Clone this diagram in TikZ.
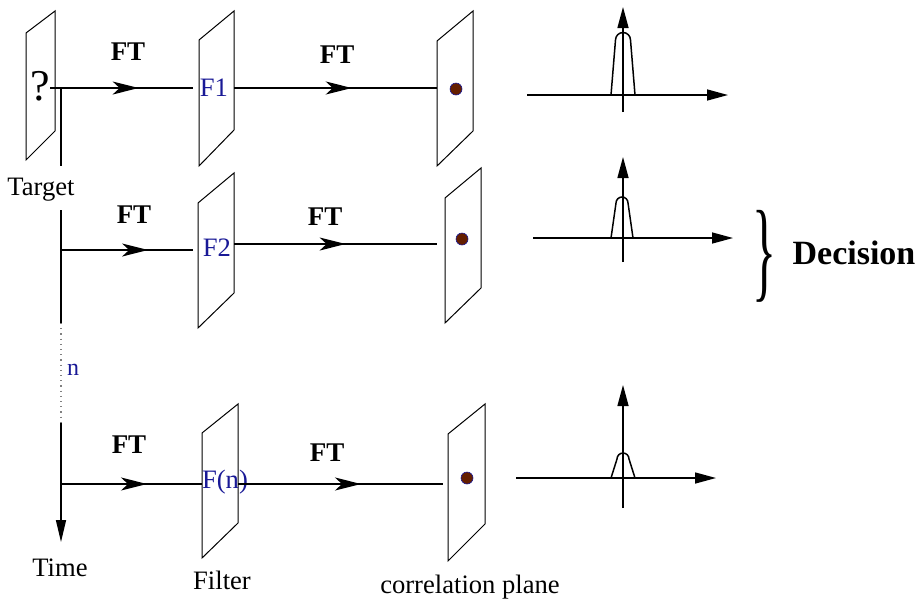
\documentclass[tikz,border=0pt]{standalone}
\usepackage{fontspec}
\setmainfont{Liberation Serif}
\usetikzlibrary{arrows.meta,decorations.markings}
\definecolor{labelblue}{RGB}{25,25,150}
\definecolor{spotbrown}{RGB}{100,30,0}

\begin{document}
\begin{tikzpicture}[x=0.5pt, y=-0.5pt,
  ray/.style={line width=0.75pt},
  plateline/.style={line width=0.5pt, line join=miter},
  ftmark/.style={postaction={decorate, decoration={markings,
      mark=at position #1 with {\arrow{Stealth[length=13pt,width=6.5pt,inset=3.5pt]}}}}},
  axis/.style={line width=0.75pt, -{Triangle[length=10.5pt,width=5.5pt]}},
  txt/.style={font=\fontsize{13.3}{16}\selectfont, inner sep=0pt},
  ft/.style={font=\fontsize{13.5}{16}\selectfont\bfseries, inner sep=0pt},
  flabel/.style={txt, text=labelblue},
  spot/.style={circle, fill=spotbrown, draw=labelblue, line width=0.3pt,
               minimum size=6pt, inner sep=0pt}
]
\useasboundingbox (0,0) rectangle (920,601);

% ── Plates ───────────────────────────────────────────────────────────────────
\draw[plateline] (26,33) -- (55,11) -- (55,131) -- (26,160) -- cycle;     % target
\draw[plateline] (199,40) -- (234,11) -- (234,130) -- (199,166) -- cycle;  % F1
\draw[plateline] (198,203) -- (234,173) -- (234,293) -- (198,328) -- cycle; % F2
\draw[plateline] (202,433) -- (238,404) -- (238,523) -- (202,558) -- cycle; % F(n)
\draw[plateline] (437,41) -- (473,11) -- (473,131) -- (437,166) -- cycle;  % corr 1
\draw[plateline] (445,198) -- (481,168) -- (481,288) -- (445,323) -- cycle; % corr 2
\draw[plateline] (448,434) -- (485,404) -- (485,524) -- (448,561) -- cycle; % corr 3

% ── Plate contents ───────────────────────────────────────────────────────────
\node[inner sep=0pt, font=\fontsize{22}{24}\selectfont] (q) at (40,86) {?};
\node[flabel] (f1) at (214,88)  {F1};
\node[flabel] (f2) at (217,248) {F2};
\node[flabel] (fn) at (225,482) {F(n)};
\node[spot] (s1) at (456,89)  {};
\node[spot] (s2) at (462,239) {};
\node[spot] (s3) at (467,478) {};

% ── Ray end points ───────────────────────────────────────────────────────────
\coordinate (r1s) at (50,88);   \coordinate (f1-in) at (193,88);
\coordinate (f1-out) at (234,88); \coordinate (c1-in) at (437,88);
\coordinate (t2) at (61,250);   \coordinate (f2-in) at (193,250);
\coordinate (f2-out) at (234,244); \coordinate (c2-in) at (437,244);
\coordinate (t3) at (61,484);   \coordinate (fn-in) at (202,484);
\coordinate (fn-out) at (238,484); \coordinate (c3-in) at (443,484);

% ── Time axis ────────────────────────────────────────────────────────────────
\coordinate (t1) at (61,88);
\coordinate (t1b) at (61,166);
\coordinate (t2a) at (61,210);
\coordinate (t2b) at (61,323);
\coordinate (t3a) at (61,423);
\coordinate (tend) at (61,542);
\draw[ray] (t1) -- (t1b);
\draw[ray] (t2a) -- (t2b);
\draw[line width=0.6pt, dotted, gray] (t2b) -- (t3a);
\draw[ray, -{Triangle[length=11pt,width=5pt]}] (t3a) -- (tend);

% ── Rays with FT arrows ──────────────────────────────────────────────────────
\draw[ray, ftmark=0.62] (r1s) -- (f1-in);
\draw[ray, ftmark=0.58] (f1-out) -- (c1-in);
\draw[ray, ftmark=0.66] (t2) -- (f2-in);
\draw[ray, ftmark=0.55] (f2-out) -- (c2-in);
\draw[ray, ftmark=0.61] (t3) -- (fn-in);
\draw[ray, ftmark=0.60] (fn-out) -- (c3-in);

\node[ft] (ft1a) at (128,52)  {FT};
\node[ft] (ft1b) at (337,55)  {FT};
\node[ft] (ft2a) at (134,215) {FT};
\node[ft] (ft2b) at (325,217) {FT};
\node[ft] (ft3a) at (129,445) {FT};
\node[ft] (ft3b) at (327,453) {FT};

% ── Correlation peaks ────────────────────────────────────────────────────────
\draw[axis] (527,95) -- (728,95);
\draw[axis] (623,112) -- (623,7);
\draw[ray] (611,95) -- (615.5,40) arc[start angle=180, end angle=360, radius=7.5] -- (635,95);

\draw[axis] (533,238) -- (733,238);
\draw[axis] (623,262) -- (623,157);
\draw[ray] (611,238) -- (616,203) arc[start angle=180, end angle=360, radius=6] -- (633,238);

\draw[axis] (516,478) -- (716,478);
\draw[axis] (623,508) -- (623,385);
\draw[ray] (611,478) -- (617,459) arc[start angle=180, end angle=360, radius=6] -- (635,478);

% ── Labels ───────────────────────────────────────────────────────────────────
\node[txt] (target) at (41,190) {Target};
\node[txt, text=labelblue, font=\fontsize{12}{14}\selectfont] (n) at (73,370) {n};
\node[txt] (time)   at (60,568) {Time};
\node[txt] (filter) at (222,580) {Filter};
\node[txt] (corr)   at (470,587) {correlation plane};
\node[inner sep=0pt] (brace) at (764,256) {\resizebox*{12pt}{46pt}{\}}};
\node[inner sep=0pt, font=\fontsize{17}{20}\selectfont\bfseries] (dec) at (854,253) {Decision};
\end{tikzpicture}
\end{document}
